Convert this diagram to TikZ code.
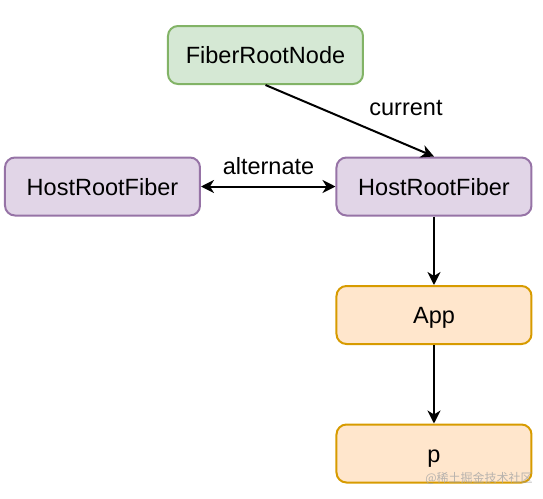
\documentclass[tikz,border=0pt]{standalone}
\usepackage{fontspec}
\setmainfont{Liberation Sans}
\newfontfamily\cjk{Noto Sans CJK SC}
\usetikzlibrary{arrows.meta}

\definecolor{greenfill}{HTML}{D5E8D4}
\definecolor{greenline}{HTML}{82B366}
\definecolor{purplefill}{HTML}{E1D5E7}
\definecolor{purpleline}{HTML}{9673A6}
\definecolor{orangefill}{HTML}{FFE6CC}
\definecolor{orangeline}{HTML}{D79B00}

\def\canvas{(0,0) rectangle (543,499)}
\def\tip{Stealth[length=6.5pt, width=6.5pt, inset=2pt]}

\begin{document}
\begin{tikzpicture}[x=0.5pt, y=-0.5pt,
    font=\fontsize{11.75}{14}\selectfont,
    box/.style={draw, line width=1pt, rounded corners=5pt, minimum width=97.5pt, minimum height=29pt, inner sep=0pt, text height=8.8pt, text depth=0pt},
    rootbox/.style={box, fill=greenfill, draw=greenline},
    fiberbox/.style={box, fill=purplefill, draw=purpleline},
    compbox/.style={box, fill=orangefill, draw=orangeline},
    link/.style={line width=1pt, -{\tip}},
    twolink/.style={line width=1pt, {\tip}-{\tip}}]
                        \useasboundingbox \canvas;
                        \node[rootbox]  (root)  at (265.5,55)  {FiberRootNode};
                        \node[fiberbox] (alt)   at (102.5,186.5) {HostRootFiber};
                        \node[fiberbox] (cur)   at (434,186.5) {HostRootFiber};
                        \node[compbox]  (app)   at (434,315)   {App};
                        \node[compbox]  (p)     at (434,453.5) {p};
                        \draw[link] (root.south) -- (cur.north);
                        \draw[twolink] (alt) -- (cur);
                        \draw[link] (cur) -- (app);
                        \draw[link] (app) -- (p);
                        \node (lblcurrent) at (406,108) {current};
                        \node (lblalt)     at (268.5,166) {alternate};
                        \node[text=gray!70, opacity=.8, font=\cjk\fontsize{6}{7}\selectfont] (mark) at (479,478) {@稀土掘金技术社区};
                      \end{tikzpicture}
\end{document}
